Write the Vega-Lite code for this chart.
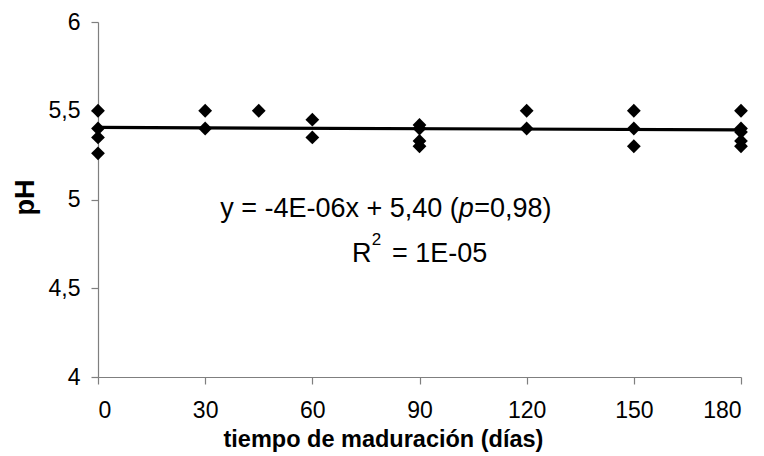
{
  "$schema": "https://vega.github.io/schema/vega-lite/v6.json",
  "width": 643,
  "height": 355,
  "autosize": {"type": "none"},
  "padding": {"left": 98, "top": 22, "right": 23, "bottom": 79},
  "background": "white",
  "config": {
    "view": {"stroke": null},
    "font": "Liberation Sans",
    "axis": {
      "grid": false,
      "domainColor": "#7f7f7f",
      "tickColor": "#7f7f7f",
      "domainWidth": 1.2,
      "tickWidth": 1.2,
      "tickSize": 7,
      "labelColor": "black",
      "titleColor": "black",
      "labelFont": "Liberation Sans",
      "labelFontSize": 23,
      "labelFontWeight": "normal",
      "titleFontWeight": "bold"
    }
  },
  "datasets": {
    "ph": [
      {"dias": 0, "ph": 5.5},
      {"dias": 0, "ph": 5.4},
      {"dias": 0, "ph": 5.35},
      {"dias": 0, "ph": 5.26},
      {"dias": 30, "ph": 5.5},
      {"dias": 30, "ph": 5.4},
      {"dias": 45, "ph": 5.5},
      {"dias": 60, "ph": 5.45},
      {"dias": 60, "ph": 5.35},
      {"dias": 90, "ph": 5.42},
      {"dias": 90, "ph": 5.4},
      {"dias": 90, "ph": 5.33},
      {"dias": 90, "ph": 5.3},
      {"dias": 120, "ph": 5.5},
      {"dias": 120, "ph": 5.4},
      {"dias": 150, "ph": 5.5},
      {"dias": 150, "ph": 5.4},
      {"dias": 150, "ph": 5.3},
      {"dias": 180, "ph": 5.5},
      {"dias": 180, "ph": 5.4},
      {"dias": 180, "ph": 5.38},
      {"dias": 180, "ph": 5.33},
      {"dias": 180, "ph": 5.3}
    ]
  },
  "layer": [
    {
      "data": {"name": "ph"},
      "transform": [{"regression": "ph", "on": "dias", "extent": [0, 180]}],
      "mark": {"type": "line", "color": "black", "strokeWidth": 3.2},
      "encoding": {
        "x": {"field": "dias", "type": "quantitative", "scale": {"domain": [0, 180], "nice": false, "zero": false}},
        "y": {"field": "ph", "type": "quantitative", "scale": {"domain": [4, 6], "nice": false, "zero": false}}
      }
    },
    {
      "data": {"name": "ph"},
      "mark": {"type": "point", "shape": "diamond", "filled": true, "color": "black", "size": 190, "opacity": 1},
      "encoding": {
        "x": {
          "field": "dias", "type": "quantitative",
          "scale": {"domain": [0, 180], "nice": false, "zero": false},
          "axis": {
            "values": [0, 30, 60, 90, 120, 150, 180],
            "labelPadding": 15,
            "title": "tiempo de maduración (días)",
            "titleFont": "Liberation Sans",
            "titleFontSize": 23.5,
            "titleAnchor": "start",
            "titleAlign": "left",
            "titleBaseline": "alphabetic",
            "titleX": 125,
            "titleY": 69
          }
        },
        "y": {
          "field": "ph", "type": "quantitative",
          "scale": {"domain": [4, 6], "nice": false, "zero": false},
          "axis": {
            "values": [4, 4.5, 5, 5.5, 6],
            "labelExpr": "replace(format(datum.value, '~g'), '.', ',')",
            "labelPadding": 11,
            "title": "pH",
            "titleFont": "Liberation Sans",
            "titleFontSize": 27,
            "titleAngle": -90,
            "titleAlign": "center",
            "titleBaseline": "alphabetic",
            "titleX": -65,
            "titleY": 175
          }
        }
      }
    },
    {
      "data": {"values": [{}]},
      "mark": {"type": "text", "text": "y = -4E-06x + 5,40 (", "align": "right", "baseline": "alphabetic", "fontSize": 27, "color": "black"},
      "encoding": {"x": {"datum": 101.0, "type": "quantitative"}, "y": {"datum": 4.901, "type": "quantitative"}}
    },
    {
      "data": {"values": [{}]},
      "mark": {"type": "text", "text": "p", "align": "left", "baseline": "alphabetic", "fontSize": 27, "fontStyle": "italic", "color": "black"},
      "encoding": {"x": {"datum": 101.0, "type": "quantitative"}, "y": {"datum": 4.901, "type": "quantitative"}}
    },
    {
      "data": {"values": [{}]},
      "mark": {"type": "text", "text": "=0,98)", "align": "left", "baseline": "alphabetic", "fontSize": 27, "color": "black"},
      "encoding": {"x": {"datum": 105.3, "type": "quantitative"}, "y": {"datum": 4.901, "type": "quantitative"}}
    },
    {
      "data": {"values": [{}]},
      "mark": {"type": "text", "text": "R", "align": "left", "baseline": "alphabetic", "fontSize": 27, "color": "black"},
      "encoding": {"x": {"datum": 71.1, "type": "quantitative"}, "y": {"datum": 4.647, "type": "quantitative"}}
    },
    {
      "data": {"values": [{}]},
      "mark": {"type": "text", "text": "2", "align": "left", "baseline": "alphabetic", "fontSize": 17, "color": "black"},
      "encoding": {"x": {"datum": 76.6, "type": "quantitative"}, "y": {"datum": 4.743, "type": "quantitative"}}
    },
    {
      "data": {"values": [{}]},
      "mark": {"type": "text", "text": "= 1E-05", "align": "left", "baseline": "alphabetic", "fontSize": 27, "color": "black"},
      "encoding": {"x": {"datum": 82.3, "type": "quantitative"}, "y": {"datum": 4.647, "type": "quantitative"}}
    }
  ]
}
